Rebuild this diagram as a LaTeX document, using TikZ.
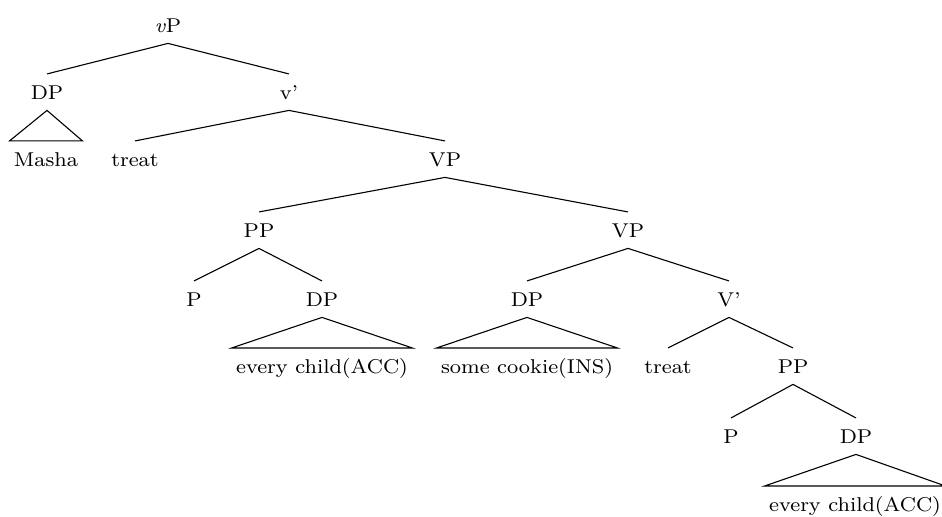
\documentclass[tikz,border=0pt]{standalone}
\usepackage{fontspec}
\setmainfont{lmroman8-regular.otf}[FakeStretch=1.055, ItalicFont=lmroman8-italic.otf]
\begin{document}
\begin{tikzpicture}[x=0.5pt,y=-0.5pt,
  lab/.style={anchor=base, text height=6.83pt, text depth=0pt, inner xsep=2pt, inner ysep=5.5pt, font=\fontsize{10pt}{12pt}\selectfont},
  edge/.style={line width=0.55pt, line join=miter}]
\useasboundingbox (0,0) rectangle (942,516);
% nodes
\node[lab] (vP) at (168,32) {\textit{v}P};
\node[lab] (DPa) at (47,99) {DP};
\node[lab] (Masha) at (46,166) {Masha};
\node[lab] (vbar) at (289,99) {v’};
\node[lab] (treata) at (135,166) {treat};
\node[lab] (VPa) at (445,166) {VP};
\node[lab] (PPa) at (259,237) {PP};
\node[lab] (VPb) at (628,237) {VP};
\node[lab] (Pa) at (194,306) {P};
\node[lab] (DPb) at (322,306) {DP};
\node[lab] (childa) at (322,373) {every child(ACC)};
\node[lab] (DPc) at (527,306) {DP};
\node[lab] (cookie) at (527,373) {some cookie(INS)};
\node[lab] (Vbar) at (729,306) {V’};
\node[lab] (treatb) at (668,373) {treat};
\node[lab] (PPb) at (793,373) {PP};
\node[lab] (Pb) at (731,443) {P};
\node[lab] (DPd) at (856,443) {DP};
\node[lab] (childb) at (855,511) {every child(ACC)};
% branches
\draw[edge] (DPa.north) -- (vP.south) -- (vbar.north);
\draw[edge] (treata.north) -- (vbar.south) -- (VPa.north);
\draw[edge] (PPa.north) -- (VPa.south) -- (VPb.north);
\draw[edge] (Pa.north) -- (PPa.south) -- (DPb.north);
\draw[edge] (DPc.north) -- (VPb.south) -- (Vbar.north);
\draw[edge] (treatb.north) -- (Vbar.south) -- (PPb.north);
\draw[edge] (Pb.north) -- (PPb.south) -- (DPd.north);
% triangles
\draw[edge] (DPa.south) -- (Masha.north west) -- (Masha.north east) -- cycle;
\draw[edge] (DPb.south) -- (childa.north west) -- (childa.north east) -- cycle;
\draw[edge] (DPc.south) -- (cookie.north west) -- (cookie.north east) -- cycle;
\draw[edge] (DPd.south) -- (childb.north west) -- (childb.north east) -- cycle;
\end{tikzpicture}
\end{document}
